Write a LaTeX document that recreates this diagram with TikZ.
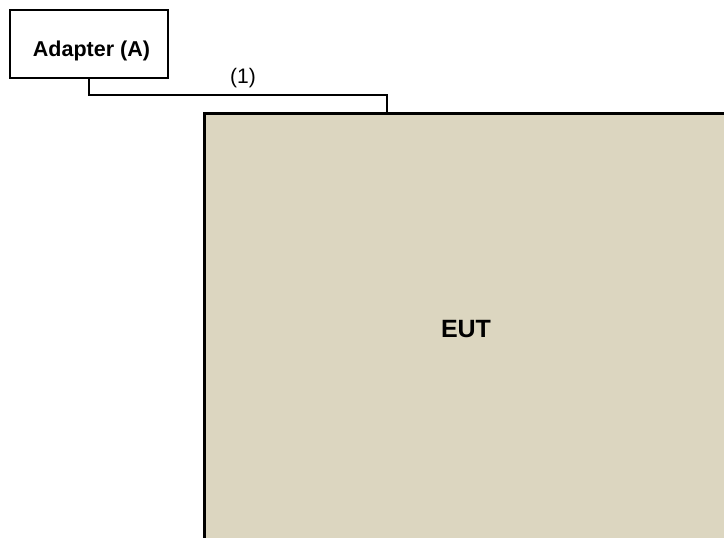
\documentclass[tikz,border=0pt]{standalone}
\usepackage{fontspec}
\setmainfont{Liberation Sans}
\definecolor{eutfill}{RGB}{220,214,192}
\begin{document}
\begin{tikzpicture}[x=1pt,y=-1pt,
  boxline/.style={draw=black,line width=2pt},
  wire/.style={draw=black,line width=2pt},
  lbl/.style={inner sep=0pt,anchor=base}]
\clip (0,0) rectangle (724,538);
\fill[white] (0,0) rectangle (724,538);
% EUT
\node[boxline,line width=2.5pt,fill=eutfill,anchor=north west,minimum width=560pt,minimum height=460pt,inner sep=0pt] (eut) at (203,112) {};
\node[lbl,font=\bfseries\fontsize{25}{30}\selectfont] (euttxt) at (466,337) {EUT};
% Adapter
\node[boxline,fill=white,anchor=north west,minimum width=158pt,minimum height=68pt,inner sep=0pt] (adapter) at (9,9) {};
\node[lbl,font=\bfseries\fontsize{21.5}{26}\selectfont] (adtxt) at (91.5,56.5) {Adapter (A)};
% connector
\coordinate (bend) at (386.5,94.5);
\draw[wire] (adapter.south) |- (bend) -- (bend |- eut.north);
\node[lbl,font=\fontsize{21}{25}\selectfont] (c1) at (243,83) {(1)};
\end{tikzpicture}
\end{document}
